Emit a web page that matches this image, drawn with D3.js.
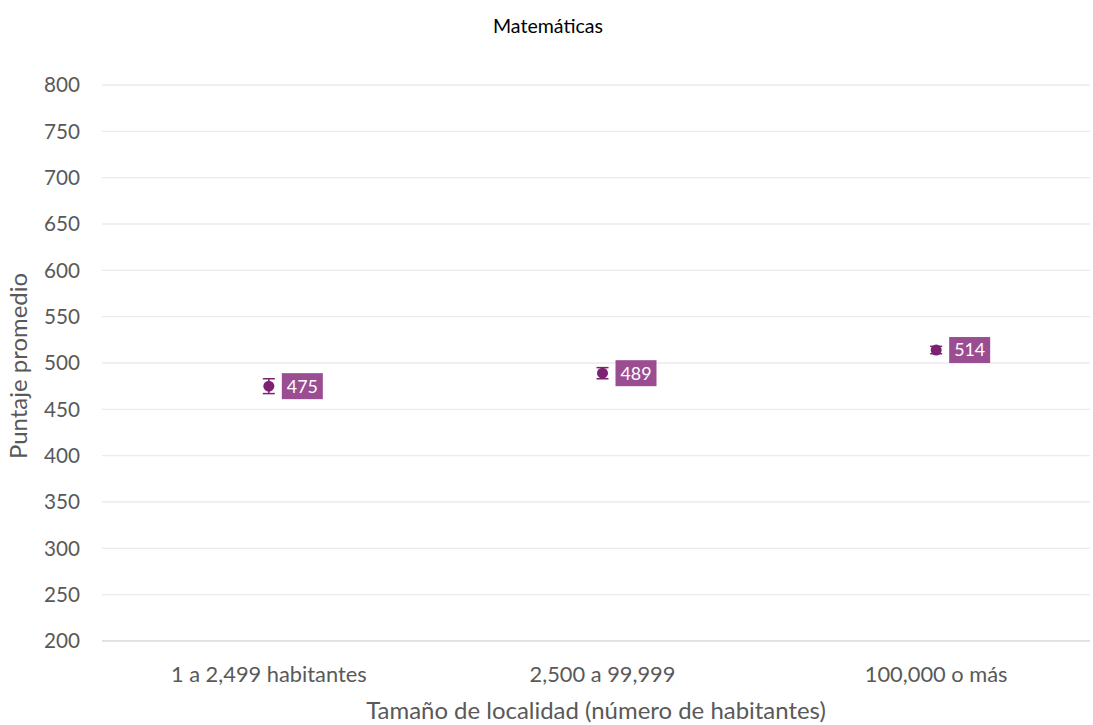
<!DOCTYPE html>
<html>
<head>
<meta charset="utf-8">
<script src="https://cdn.jsdelivr.net/npm/d3@7"></script>
<style>
  body { margin: 0; background: #fff; }
  svg text { font-family: Lato, "Open Sans", sans-serif; }
</style>
</head>
<body>
<script>
var categories = ["1 a 2,499 habitantes", "2,500 a 99,999", "100,000 o más"];
var scores = [475, 489, 514];
var errors = [8, 6, 4];
var yTicks = [200, 250, 300, 350, 400, 450, 500, 550, 600, 650, 700, 750, 800];

var svgWidth = 1093;
var svgHeight = 725;

var svg = d3.select("body")
    .append("svg")
    .attr("width", svgWidth)
    .attr("height", svgHeight);

// font size that makes a string a given width
function fitSize(str, width) {
    var t = svg.append("text").attr("font-size", 100).text(str);
    var w = t.node().getComputedTextLength();
    t.remove();
    return 100 * width / w;
}

var tickSize = fitSize("1 a 2,499 habitantes", 196);
var ySize = fitSize("800", 36);
var labSize = fitSize("475", 31);
var axisTitleSize = fitSize("Tamaño de localidad (número de habitantes)", 460);
var titleSize = fitSize("Matemáticas", 110);

var xBandScale = d3.scaleBand()
    .domain(categories)
    .range([102, 1103]);

var yLinearScale = d3.scaleLinear()
    .domain([200, 800])
    .range([641, 85]);

// gridlines
svg.append("g")
    .selectAll("line")
    .data(yTicks.slice(1))
    .enter()
    .append("line")
    .attr("x1", 102)
    .attr("x2", 1090)
    .attr("y1", d => yLinearScale(d))
    .attr("y2", d => yLinearScale(d))
    .attr("stroke", "#ebebeb")
    .attr("stroke-width", 1.3);

// baseline
svg.append("line")
    .attr("x1", 102)
    .attr("x2", 1090)
    .attr("y1", yLinearScale(200))
    .attr("y2", yLinearScale(200))
    .attr("stroke", "#d9d9d9")
    .attr("stroke-width", 1.5);

// y tick labels
svg.append("g")
    .selectAll("text")
    .data(yTicks)
    .enter()
    .append("text")
    .attr("x", 80)
    .attr("y", d => yLinearScale(d))
    .attr("dy", "0.36em")
    .attr("text-anchor", "end")
    .attr("font-size", ySize)
    .attr("fill", "#595959")
    .text(d => d);

// x tick labels
svg.append("g")
    .selectAll("text")
    .data(categories)
    .enter()
    .append("text")
    .attr("x", d => xBandScale(d) + xBandScale.bandwidth() / 2)
    .attr("y", 682)
    .attr("text-anchor", "middle")
    .attr("font-size", tickSize)
    .attr("fill", "#595959")
    .text(d => d);

var cx = (d, i) => xBandScale(categories[i]) + xBandScale.bandwidth() / 2;

// error bars
var eb = svg.append("g").attr("stroke", "#7b2270").attr("stroke-width", 1.5);
scores.forEach(function (s, i) {
    var x = cx(s, i);
    eb.append("line")
        .attr("x1", x).attr("x2", x)
        .attr("y1", yLinearScale(s + errors[i]))
        .attr("y2", yLinearScale(s - errors[i]));
    [s + errors[i], s - errors[i]].forEach(function (v) {
        eb.append("line")
            .attr("x1", x - 6).attr("x2", x + 6)
            .attr("y1", yLinearScale(v)).attr("y2", yLinearScale(v));
    });
});

// points
svg.append("g")
    .selectAll("circle")
    .data(scores)
    .enter()
    .append("circle")
    .attr("cx", cx)
    .attr("cy", d => yLinearScale(d))
    .attr("r", 5.5)
    .attr("fill", "#7b2270");

// value labels
var lab = svg.append("g")
    .selectAll("g")
    .data(scores)
    .enter()
    .append("g")
    .attr("transform", (d, i) => `translate(${cx(d, i) + 13}, ${yLinearScale(d)})`);

lab.append("rect")
    .attr("x", 0)
    .attr("y", -13)
    .attr("width", 41)
    .attr("height", 26)
    .attr("fill", "#9b4d92");

lab.append("text")
    .attr("x", 20.5)
    .attr("y", 0)
    .attr("dy", "0.36em")
    .attr("text-anchor", "middle")
    .attr("font-size", labSize)
    .attr("fill", "#ffffff")
    .text(d => d);

// title
svg.append("text")
    .attr("x", 548)
    .attr("y", 33)
    .attr("text-anchor", "middle")
    .attr("font-size", titleSize)
    .attr("fill", "#000")
    .text("Matemáticas");

// axis titles
svg.append("text")
    .attr("x", 596)
    .attr("y", 719)
    .attr("text-anchor", "middle")
    .attr("font-size", axisTitleSize)
    .attr("fill", "#595959")
    .text("Tamaño de localidad (número de habitantes)");

svg.append("text")
    .attr("transform", "translate(27, 366) rotate(-90)")
    .attr("text-anchor", "middle")
    .attr("font-size", axisTitleSize)
    .attr("fill", "#595959")
    .text("Puntaje promedio");
</script>
</body>
</html>
